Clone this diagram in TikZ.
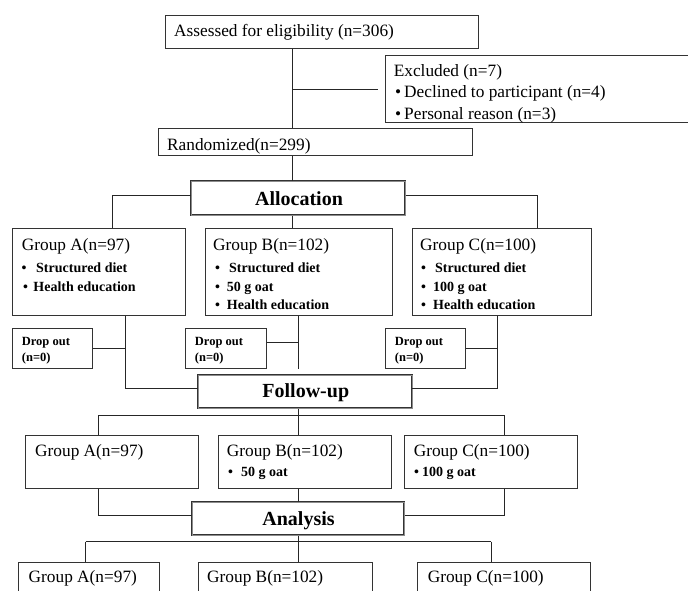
\documentclass[tikz,border=0pt]{standalone}
\usepackage{fontspec}
\setmainfont{Liberation Serif}
\usetikzlibrary{calc}
\newcommand\mkbox[6][box]{\node[#1, minimum width=#5pt, minimum height=#6pt, anchor=north west] (#2) at (#3,#4) {};}
\begin{document}
\begin{tikzpicture}[x=1pt,y=-1pt,
  box/.style={draw=black!80, line width=0.9pt, fill=white, rectangle, inner sep=0pt},
  dbox/.style={draw=black!80, line width=0.6pt, double=black!45, double distance=1pt, rectangle, inner sep=0pt},
  conn/.style={draw=black!85, line width=0.9pt},
  reg/.style={font=\fontsize{17.3}{20}\selectfont, inner sep=0pt, anchor=base west},
  bld/.style={font=\fontsize{14}{16}\selectfont\bfseries, inner sep=0pt, anchor=base west},
  sml/.style={font=\fontsize{12.5}{14}\selectfont\bfseries, inner sep=0pt, anchor=base west},
  hd/.style={font=\fontsize{20}{22}\selectfont\bfseries, inner sep=0pt, anchor=base}]
\useasboundingbox (0,0) rectangle (688,590);
\fill[white] (0,0) rectangle (688,590);
\clip (0,0) rectangle (688,590);
% boxes
\mkbox{ass}{165}{15}{313}{33}
\mkbox{exc}{385}{55}{330}{67}
\mkbox{rnd}{158}{128}{313.5}{27}
\mkbox[dbox]{al}{191}{181}{214}{34}
\mkbox{ga}{12}{228}{173}{87}
\mkbox{gb}{205}{228}{186.7}{87}
\mkbox{gc}{411.7}{228}{179}{87}
\mkbox{da}{12}{328}{80}{40}
\mkbox{db}{185}{328}{81}{40}
\mkbox{dc}{385}{328}{80}{40}
\mkbox[dbox]{fu}{198}{375}{213.7}{33}
\mkbox{fa}{25}{435}{173}{53}
\mkbox{fb}{218}{435}{173}{53}
\mkbox{fc}{404}{435}{173}{53}
\mkbox[dbox]{an}{192}{502}{212}{33}
\mkbox{na}{18}{562}{141}{60}
\mkbox{nb}{198}{562}{174}{60}
\mkbox{nc}{417}{562}{173}{60}
% coordinates
\coordinate (xs) at (292,0);
\coordinate (xm) at (298,0);
\coordinate (xa1) at (112,0);
\coordinate (xc1) at (537.7,0);
\coordinate (xa2) at (125.7,0);
\coordinate (xc2) at (497.7,0);
\coordinate (xa3) at (98.7,0);
\coordinate (xc3) at (504,0);
\coordinate (xa4) at (85.5,0);
\coordinate (xc4) at (491,0);
\coordinate (yal) at (0,195);
\coordinate (ydb) at (0,342);
\coordinate (yfu) at (0,388);
\coordinate (yr2) at (0,415);
\coordinate (yan) at (0,515);
\coordinate (yr3) at (0,541.7);
% connectors
\draw[conn] (ass.south -| xs) -- (rnd.north -| xs);
\draw[conn, shorten >=7pt] (xs |- exc.west) -- (exc.west);
\draw[conn] (rnd.south -| xs) -- (al.north -| xs);
\draw[conn] (al.west |- yal) -| (ga.north -| xa1);
\draw[conn] (al.east |- yal) -| (gc.north -| xc1);
\draw[conn] (al.south -| xs) -- (gb.north -| xs);
\draw[conn] (ga.south -| xa2) |- (fu.west |- yfu);
\draw[conn] (da.east) -- (da.east -| xa2);
\draw[conn] (gb.south -| xm) -- (xm |- db.south);
\draw[conn] (db.east |- ydb) -- (xm |- ydb);
\draw[conn] (gc.south -| xc2) |- (fu.east |- yfu);
\draw[conn] (dc.east) -- (dc.east -| xc2);
\draw[conn] (fu.south -| xm) -- (xm |- yr2);
\draw[conn] (xa3 |- yr2) -- (xc3 |- yr2);
\draw[conn] (xa3 |- yr2) -- (fa.north -| xa3);
\draw[conn] (xm |- yr2) -- (fb.north -| xm);
\draw[conn] (xc3 |- yr2) -- (fc.north -| xc3);
\draw[conn] (fa.south -| xa3) |- (an.west |- yan);
\draw[conn] (fc.south -| xc3) |- (an.east |- yan);
\draw[conn] (fb.south -| xm) -- (an.north -| xm);
\draw[conn] (an.south -| xm) -- (xm |- yr3);
\draw[conn] (xa4 |- yr3) -- (xc4 |- yr3);
\draw[conn] (xa4 |- yr3) -- (na.north -| xa4);
\draw[conn] (xm |- yr3) -- (nb.north -| xm);
\draw[conn] (xc4 |- yr3) -- (nc.north -| xc4);
% texts
\node[reg] (tass) at (174,36.5) {Assessed for eligibility (n=306)};
\node[reg] (texc1) at (393.6,76) {Excluded (n=7)};
\node[reg] (texc2) at (395,97.5) {\makebox[9pt][l]{\textbullet}Declined to participant (n=4)};
\node[reg] (texc3) at (395,119.5) {\makebox[9pt][l]{\textbullet}Personal reason (n=3)};
\node[reg] (trnd) at (167,150) {Randomized(n=299)};
\node[hd] (tal) at (299,205.7) {Allocation};
\node[hd] (tfu) at (305.8,397.5) {Follow-up};
\node[hd] (tan) at (298.5,525) {Analysis};
% group row 1
\node[reg] (tga) at (21.7,250) {Group A(n=97)};
\node[bld] (tga1) at (21.5,272) {\makebox[14.5pt][l]{\textbullet}Structured diet};
\node[bld] (tga2) at (23,291.5) {\makebox[10.3pt][l]{\textbullet}Health education};
\node[reg] (tgb) at (213,250) {Group B(n=102)};
\node[bld] (tgb1) at (215,272) {\makebox[14pt][l]{\textbullet}Structured diet};
\node[bld] (tgb2) at (215,291.5) {\makebox[11.7pt][l]{\textbullet}50 g oat};
\node[bld] (tgb3) at (215,309.5) {\makebox[11.7pt][l]{\textbullet}Health education};
\node[reg] (tgc) at (420,250) {Group C(n=100)};
\node[bld] (tgc1) at (421,272) {\makebox[14pt][l]{\textbullet}Structured diet};
\node[bld] (tgc2) at (421,291.5) {\makebox[12pt][l]{\textbullet}100 g oat};
\node[bld] (tgc3) at (421,309.5) {\makebox[12pt][l]{\textbullet}Health education};
% drop outs
\node[sml] (tda1) at (21.7,345.5) {Drop out};
\node[sml] (tda2) at (21.7,361) {(n=0)};
\node[sml] (tdb1) at (194.7,345.5) {Drop out};
\node[sml] (tdb2) at (194.7,361) {(n=0)};
\node[sml] (tdc1) at (394.7,345.5) {Drop out};
\node[sml] (tdc2) at (394.7,361) {(n=0)};
% row 2
\node[reg] (tfa) at (35,456) {Group A(n=97)};
\node[reg] (tfb) at (226.7,456) {Group B(n=102)};
\node[bld] (tfb1) at (228,476) {\makebox[13pt][l]{\textbullet}50 g oat};
\node[reg] (tfc) at (413.6,456) {Group C(n=100)};
\node[bld] (tfc1) at (414,476) {\makebox[8pt][l]{\textbullet}100 g oat};
% row 3
\node[reg] (tna) at (28.5,582) {Group A(n=97)};
\node[reg] (tnb) at (207,582) {Group B(n=102)};
\node[reg] (tnc) at (427.6,582) {Group C(n=100)};
\end{tikzpicture}
\end{document}
